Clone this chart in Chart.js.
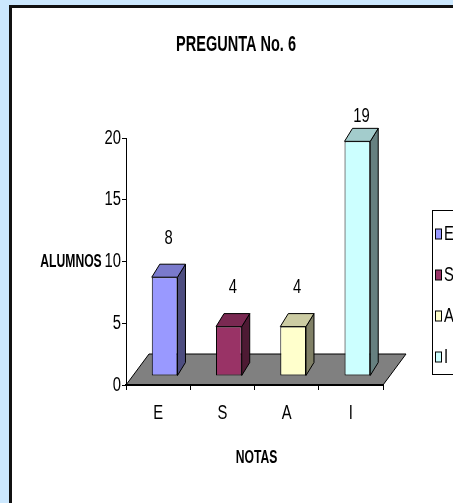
<!DOCTYPE html>
<html>
<head>
<meta charset="utf-8">
<script src="https://cdn.jsdelivr.net/npm/chart.js@4.4.1/dist/chart.umd.min.js"></script>
<style>
  html, body { margin: 0; padding: 0; background: #CCE8FE; overflow: hidden; }
  canvas { display: block; }
</style>
</head>
<body>
<canvas id="c" width="453" height="503"></canvas>
<script>
// ---- data ----
const chartTitle = 'PREGUNTA No. 6';
const xTitle = 'NOTAS';
const yTitle = 'ALUMNOS';
const categories = ['E', 'S', 'A', 'I'];
const alumnos = [8, 4, 4, 19];
const yMin = 0;
const yMax = 20;
const yStep = 5;

// ---- styles ----
const frontColors = ['#9999FF', '#993366', '#FFFFCC', '#CCFFFF'];
const sideColors  = ['#4D4D80', '#4D1A33', '#808066', '#668080'];
const topColors   = ['#7A7ACC', '#7A2952', '#CCCCA3', '#A3CCCC'];

const FONT = '"Liberation Sans", Arial, sans-serif';
const BAR_SHIFT   = { x: 6.5, y: -9 };   // front faces stand in the middle of the floor
const BAR_DEPTH   = { x: 8,   y: -13 };
const FLOOR_DEPTH = { x: 23,  y: -31 };

// Narrow lettering: a regular face squeezed horizontally around its anchor
function narrowText(ctx, text, x, y, size, bold, align, sx) {
  ctx.save();
  ctx.font = (bold ? 'bold ' : '') + size + 'px ' + FONT;
  ctx.fillStyle = '#000';
  ctx.textAlign = align;
  ctx.textBaseline = 'middle';
  ctx.translate(x, y);
  ctx.scale(sx, 1);
  ctx.fillText(text, 0, 0);
  ctx.restore();
}

const frame3d = {
  id: 'frame3d',
  beforeDraw(chart) {
    const { ctx, width, height, chartArea: a } = chart;
    ctx.save();
    // page and framed panel
    ctx.fillStyle = '#CCE8FE';
    ctx.fillRect(0, 0, width, height);
    ctx.fillStyle = '#FFFFFF';
    ctx.fillRect(10, 6, width, height);
    ctx.fillStyle = '#111111';
    ctx.fillRect(9, 5, width, 3);
    ctx.fillRect(9, 5, 3, height);

    // grey floor
    const y0 = chart.scales.y.getPixelForValue(yMin);
    ctx.beginPath();
    ctx.moveTo(a.left, y0);
    ctx.lineTo(a.right, y0);
    ctx.lineTo(a.right + FLOOR_DEPTH.x, y0 + FLOOR_DEPTH.y);
    ctx.lineTo(a.left + FLOOR_DEPTH.x, y0 + FLOOR_DEPTH.y);
    ctx.closePath();
    ctx.fillStyle = '#808080';
    ctx.fill();
    ctx.strokeStyle = '#000';
    ctx.lineWidth = 1;
    ctx.stroke();
    ctx.restore();

    // titles
    narrowText(ctx, chartTitle, 236, 45, 22, true, 'center', 0.66);
    narrowText(ctx, yTitle, 71, (a.top + a.bottom) / 2, 19, true, 'center', 0.64);
    narrowText(ctx, xTitle, (a.left + a.right) / 2 + 2, 458, 19, true, 'center', 0.64);
  },
  afterDraw(chart) {
    const ctx = chart.ctx;
    // tick labels from the library's scales
    const ys = chart.scales.y;
    ys.ticks.forEach(t => {
      narrowText(ctx, String(t.value), ys.left + ys.width - 4 - 1, ys.getPixelForValue(t.value), 20, false, 'right', 0.74);
    });
    const xs = chart.scales.x;
    xs.ticks.forEach((t, i) => {
      narrowText(ctx, xs.getLabelForValue(t.value), xs.getPixelForTick(i), 413, 20, false, 'center', 0.74);
    });

    // legend box on the right
    ctx.save();
    ctx.strokeStyle = '#000';
    ctx.lineWidth = 1;
    ctx.strokeRect(432.5, 210.5, 80, 164);
    categories.forEach((c, i) => {
      const cy = 234 + i * 41;
      ctx.fillStyle = frontColors[i];
      ctx.fillRect(435.5, cy - 5, 6, 10);
      ctx.strokeRect(435.5, cy - 5, 6, 10);
      narrowText(ctx, c, 444, cy, 20, false, 'left', 0.74);
    });
    ctx.restore();
  },
  beforeDatasetsDraw(chart) {
    chart.ctx.save();
    chart.ctx.translate(BAR_SHIFT.x, BAR_SHIFT.y);
  },
  afterDatasetsDraw(chart) {
    const ctx = chart.ctx;
    const meta = chart.getDatasetMeta(0);
    meta.data.forEach((bar, i) => {
      const { x, y, base, width } = bar.getProps(['x', 'y', 'base', 'width'], true);
      const l = x - width / 2, r = x + width / 2;
      const dx = BAR_DEPTH.x, dy = BAR_DEPTH.y;
      ctx.lineWidth = 1;
      ctx.strokeStyle = '#000';
      ctx.lineJoin = 'round';
      // side face
      ctx.beginPath();
      ctx.moveTo(r, y);
      ctx.lineTo(r + dx, y + dy);
      ctx.lineTo(r + dx, base + dy);
      ctx.lineTo(r, base);
      ctx.closePath();
      ctx.fillStyle = sideColors[i];
      ctx.fill();
      ctx.stroke();
      // top face
      ctx.beginPath();
      ctx.moveTo(l, y);
      ctx.lineTo(l + dx, y + dy);
      ctx.lineTo(r + dx, y + dy);
      ctx.lineTo(r, y);
      ctx.closePath();
      ctx.fillStyle = topColors[i];
      ctx.fill();
      ctx.stroke();
    });
    ctx.restore();

    // value labels above each column
    const a = chart.chartArea;
    meta.data.forEach((bar, i) => {
      const { x, y } = bar.getProps(['x', 'y'], true);
      const lx = x + BAR_SHIFT.x + BAR_DEPTH.x / 2;
      const ly = Math.max(y + BAR_SHIFT.y + BAR_DEPTH.y - 26, a.top - 22);
      narrowText(ctx, String(alumnos[i]), lx, ly, 20, false, 'center', 0.74);
    });
  }
};

new Chart(document.getElementById('c'), {
  type: 'bar',
  data: {
    labels: categories,
    datasets: [{
      label: yTitle,
      data: alumnos,
      backgroundColor: frontColors,
      borderColor: '#000',
      borderWidth: 1,
      borderSkipped: false,
      categoryPercentage: 1,
      barPercentage: 0.4
    }]
  },
  plugins: [frame3d],
  options: {
    responsive: false,
    devicePixelRatio: 1,
    animation: false,
    layout: { padding: { left: 0, right: 70, top: 138, bottom: 0 } },
    plugins: {
      legend: { display: false },
      tooltip: { enabled: false },
      title: { display: false }
    },
    scales: {
      x: {
        offset: true,
        grid: { display: true, drawOnChartArea: false, drawTicks: true, tickLength: 5, color: '#000', offset: true },
        border: { display: true, color: '#000', width: 2 },
        ticks: { display: false },
        afterFit(s) { s.height = 118; }
      },
      y: {
        min: yMin,
        max: yMax,
        ticks: { stepSize: yStep, display: false },
        grid: { drawOnChartArea: false, drawTicks: true, tickLength: 4, color: '#000' },
        border: { color: '#000', width: 1 },
        afterFit(s) { s.width = 126; }
      }
    }
  }
});
</script>
</body>
</html>
